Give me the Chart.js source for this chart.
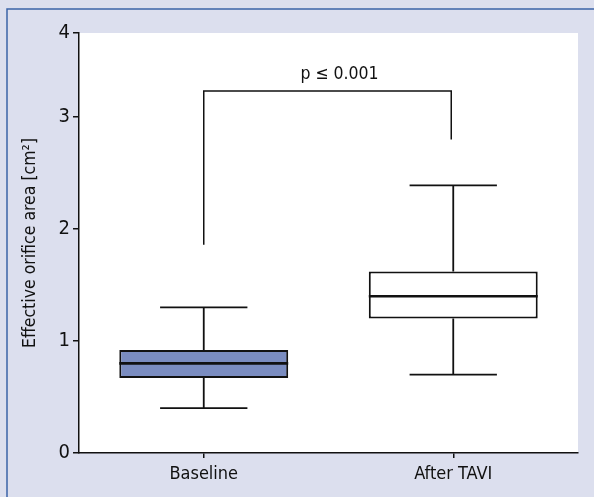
<!DOCTYPE html>
<html>
<head>
<meta charset="utf-8">
<script src="https://cdn.jsdelivr.net/npm/chart.js@4.4.0/dist/chart.umd.min.js"></script>
<style>
html,body{margin:0;padding:0;background:#dcdfee;overflow:hidden;}
#wrap{width:594px;height:497px;position:relative;}
canvas{display:block;}
</style>
</head>
<body>
<div id="wrap"><canvas id="c" width="594" height="497"></canvas></div>
<script>
const categories = ['Baseline', 'After TAVI'];
const whiskerMin = [0.40, 0.70];
const q1 = [0.67, 1.20];
const median = [0.80, 1.40];
const q3 = [0.92, 1.62];
const whiskerMax = [1.30, 2.39];
const yTicks = [0, 1, 2, 3, 4];
const bracketLeftBottom = 1.86;
const bracketRightBottom = 2.80;
const bracketTop = 3.31;
const pLabel = 'p \u2264 0.001';
const yTitle = 'Effective orifice area [cm\u00B2]';
const boxFill = ['#7a8cc0', '#ffffff'];

// axis is compressed above 3 (3→4 drawn at 3/4 of the unit spacing)
function toAxis(v) { return v <= 3 ? v : 3 + (v - 3) * 0.75; }

const FONT = "'Liberation Sans Narrow', 'DejaVu Sans Condensed', sans-serif";

const boxPlugin = {
  id: 'boxPlugin',
  beforeDraw(chart) {
    const ctx = chart.ctx, a = chart.chartArea;
    ctx.save();
    ctx.fillStyle = '#dcdfee';
    ctx.fillRect(0, 0, chart.width, chart.height);
    ctx.fillStyle = '#ffffff';
    ctx.fillRect(a.left, a.top, a.right - a.left, a.bottom - a.top);
    ctx.strokeStyle = '#3b64a8';
    ctx.lineWidth = 1.5;
    ctx.beginPath();
    ctx.moveTo(7, chart.height + 5);
    ctx.lineTo(7, 9);
    ctx.lineTo(chart.width + 5, 9);
    ctx.stroke();
    ctx.restore();
  },
  afterDatasetsDraw(chart) {
    const ctx = chart.ctx;
    const x = chart.scales.x, y = chart.scales.y;
    const catW = x.getPixelForValue(1) - x.getPixelForValue(0);
    const capHalf = catW * 0.175;
    ctx.save();
    ctx.strokeStyle = '#111111';
    ctx.lineCap = 'butt';
    categories.forEach((c, i) => {
      const cx = x.getPixelForValue(i);
      const meta = chart.getDatasetMeta(0).data[i];
      const half = meta.width / 2;
      ctx.lineWidth = 1.8;
      ctx.beginPath();
      ctx.moveTo(cx, y.getPixelForValue(toAxis(q3[i])));
      ctx.lineTo(cx, y.getPixelForValue(toAxis(whiskerMax[i])));
      ctx.moveTo(cx, y.getPixelForValue(toAxis(q1[i])));
      ctx.lineTo(cx, y.getPixelForValue(toAxis(whiskerMin[i])));
      ctx.moveTo(cx - capHalf, y.getPixelForValue(toAxis(whiskerMax[i])));
      ctx.lineTo(cx + capHalf, y.getPixelForValue(toAxis(whiskerMax[i])));
      ctx.moveTo(cx - capHalf, y.getPixelForValue(toAxis(whiskerMin[i])));
      ctx.lineTo(cx + capHalf, y.getPixelForValue(toAxis(whiskerMin[i])));
      ctx.stroke();
      ctx.lineWidth = 2.6;
      ctx.beginPath();
      ctx.moveTo(cx - half, y.getPixelForValue(toAxis(median[i])));
      ctx.lineTo(cx + half, y.getPixelForValue(toAxis(median[i])));
      ctx.stroke();
    });
    // significance bracket
    const lx = x.getPixelForValue(0), rx = x.getPixelForValue(1) - 2;
    const ty = y.getPixelForValue(toAxis(bracketTop));
    ctx.lineWidth = 1.5;
    ctx.beginPath();
    ctx.moveTo(lx, y.getPixelForValue(toAxis(bracketLeftBottom)));
    ctx.lineTo(lx, ty);
    ctx.lineTo(rx, ty);
    ctx.lineTo(rx, y.getPixelForValue(toAxis(bracketRightBottom)));
    ctx.stroke();
    ctx.fillStyle = '#111111';
    ctx.font = '17.5px ' + FONT;
    ctx.textAlign = 'center';
    ctx.textBaseline = 'middle';
    ctx.fillText(pLabel, (lx + rx) / 2 + 12, ty - 17);
    ctx.restore();
  }
};

new Chart(document.getElementById('c'), {
  type: 'bar',
  data: {
    labels: categories,
    datasets: [{
      data: categories.map((c, i) => [toAxis(q1[i]), toAxis(q3[i])]),
      backgroundColor: boxFill,
      borderColor: '#111111',
      borderWidth: 2,
      borderSkipped: false,
      barPercentage: 0.677,
      categoryPercentage: 1.0
    }]
  },
  options: {
    responsive: false,
    animation: false,
    devicePixelRatio: 1,
    layout: { padding: { left: 0, top: 33, right: 16, bottom: 0 } },
    plugins: { legend: { display: false }, tooltip: { enabled: false } },
    scales: {
      x: {
        offset: true,
        border: { display: true, color: '#111111', width: 1.5 },
        grid: { offset: false, drawOnChartArea: false, drawTicks: true, tickLength: 5, color: '#111111', lineWidth: 1.5 },
        ticks: { color: '#111111', font: { family: FONT, size: 18 }, padding: 6 },
        afterFit(s) { s.height = 44; }
      },
      y: {
        min: 0,
        max: toAxis(4),
        border: { display: true, color: '#111111', width: 1.5 },
        grid: { drawOnChartArea: false, drawTicks: true, tickLength: 6, color: '#111111', lineWidth: 1.5 },
        afterBuildTicks(s) { s.ticks = yTicks.map(v => ({ value: toAxis(v) })); },
        ticks: {
          color: '#111111', font: { family: FONT, size: 20 }, padding: 3,
          callback(val, i) { return String(yTicks[i]); }
        },
        title: { display: true, text: yTitle, color: '#111111', font: { family: FONT, size: 17.5 }, padding: { top: 20, bottom: 0 } },
        afterFit(s) { s.width = 79; }
      }
    }
  },
  plugins: [boxPlugin]
});
</script>
</body>
</html>
